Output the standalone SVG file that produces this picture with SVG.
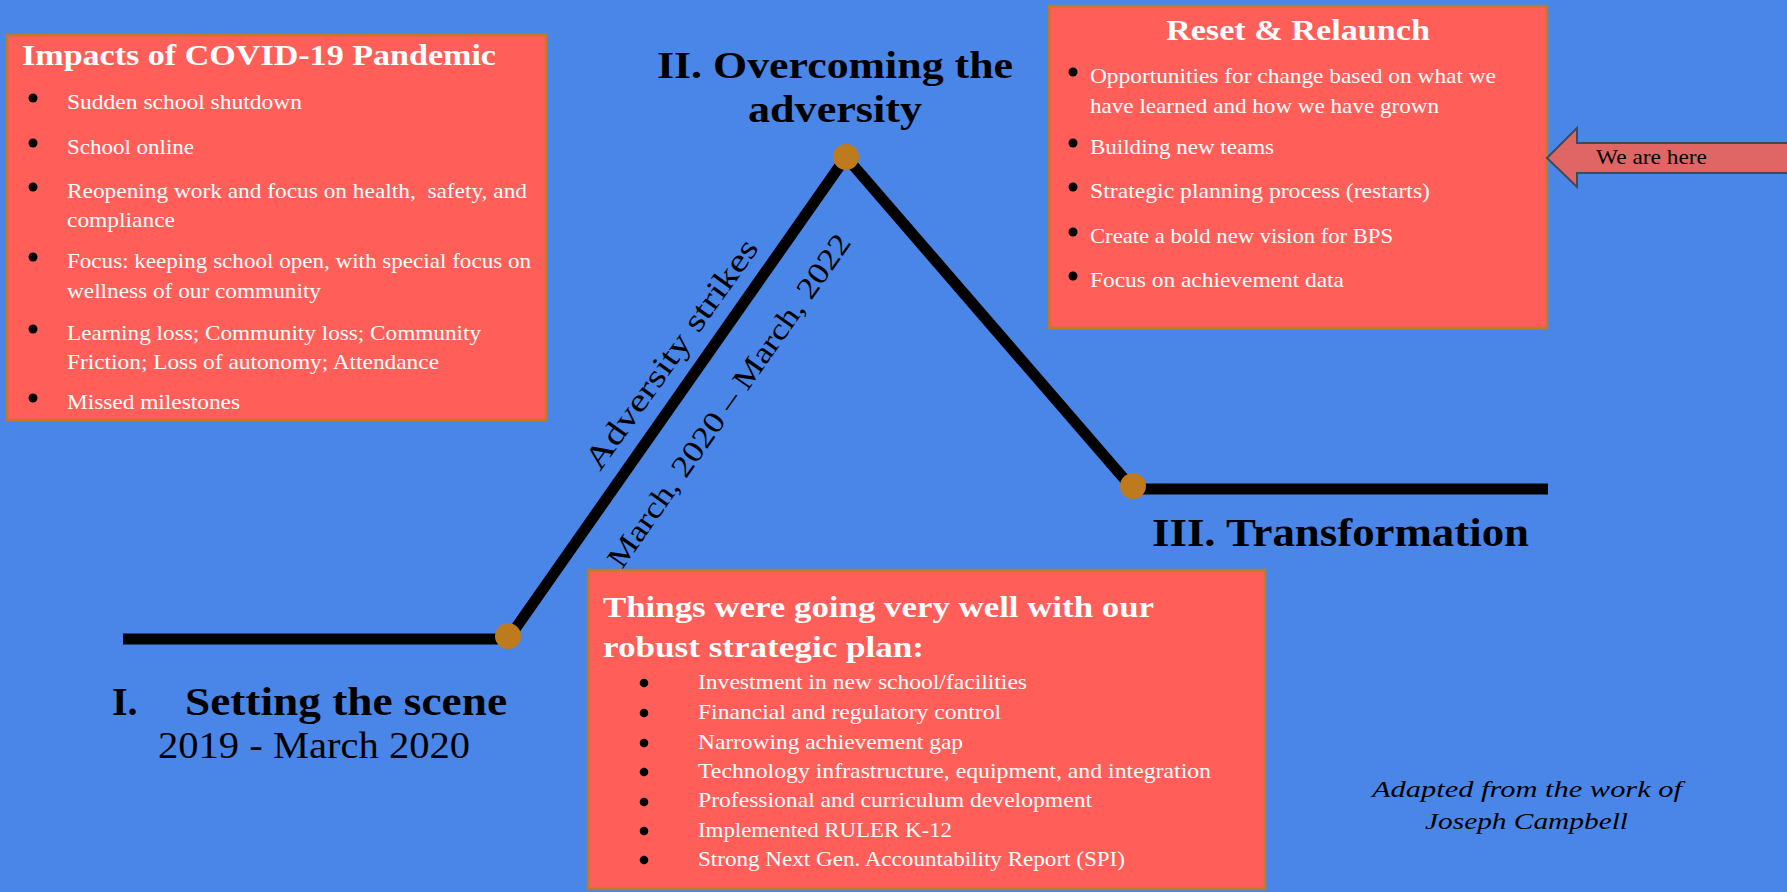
<svg xmlns="http://www.w3.org/2000/svg" width="1787" height="892" viewBox="0 0 1787 892">
<style>
text{font-family:"Liberation Serif","DejaVu Serif",serif;}
.box{fill:#FF5E59;stroke:#BF7A2A;stroke-width:2.5;}
.w{fill:#FFFFFF;}
.k{fill:#000000;}
.h{font-weight:bold;font-size:29.5px;}
.b{font-size:22px;}
.bb{font-size:21.5px;}
.bul{fill:#000000;}
.dot{fill:#BE7A1F;}
.stage{font-weight:bold;fill:#000000;}
</style>
<rect x="0" y="0" width="1787" height="892" fill="#4A86E8"/>

<g id="connectors">
<polyline points="123,639 508,639 846,157 1133,489 1548,489" fill="none" stroke="#000000" stroke-width="11" stroke-linejoin="round"/>
</g>

<g id="dots">
<circle class="dot" cx="508" cy="636" r="13"/>
<circle class="dot" cx="846" cy="157" r="13"/>
<circle class="dot" cx="1133" cy="486" r="13"/>
</g>

<g id="slope-labels">
<text class="k" font-size="32" transform="translate(600,472) rotate(-54.5)" textLength="275" lengthAdjust="spacingAndGlyphs">Adversity strikes</text>
<text class="k" font-size="30" transform="translate(622,570) rotate(-54.9)" textLength="400" lengthAdjust="spacingAndGlyphs">March, 2020 – March, 2022</text>
</g>

<g id="impacts">
<rect class="box" x="7" y="35" width="539" height="385"/>
<text class="w h" x="22" y="65" textLength="474" lengthAdjust="spacingAndGlyphs">Impacts of COVID-19 Pandemic</text>
<circle class="bul" cx="33" cy="98" r="4.5"/>
<circle class="bul" cx="33" cy="143" r="4.5"/>
<circle class="bul" cx="33" cy="187" r="4.5"/>
<circle class="bul" cx="33" cy="257" r="4.5"/>
<circle class="bul" cx="33" cy="329" r="4.5"/>
<circle class="bul" cx="33" cy="398" r="4.5"/>
<text class="w b" x="67" y="109" textLength="235" lengthAdjust="spacingAndGlyphs">Sudden school shutdown</text>
<text class="w b" x="67" y="154" textLength="127" lengthAdjust="spacingAndGlyphs">School online</text>
<text class="w b" x="67" y="198" textLength="460" lengthAdjust="spacingAndGlyphs" xml:space="preserve">Reopening work and focus on health,  safety, and</text>
<text class="w b" x="67" y="227" textLength="108" lengthAdjust="spacingAndGlyphs">compliance</text>
<text class="w b" x="67" y="268" textLength="464" lengthAdjust="spacingAndGlyphs">Focus: keeping school open, with special focus on</text>
<text class="w b" x="67" y="298" textLength="254" lengthAdjust="spacingAndGlyphs">wellness of our community</text>
<text class="w b" x="67" y="340" textLength="414" lengthAdjust="spacingAndGlyphs">Learning loss; Community loss; Community</text>
<text class="w b" x="67" y="369" textLength="372" lengthAdjust="spacingAndGlyphs">Friction; Loss of autonomy; Attendance</text>
<text class="w b" x="67" y="409" textLength="173" lengthAdjust="spacingAndGlyphs">Missed milestones</text>
</g>

<g id="reset">
<rect class="box" x="1049" y="6" width="498" height="322"/>
<text class="w h" x="1298" y="40" text-anchor="middle" textLength="264" lengthAdjust="spacingAndGlyphs">Reset &amp; Relaunch</text>
<circle class="bul" cx="1073" cy="72" r="4.5"/>
<circle class="bul" cx="1073" cy="143" r="4.5"/>
<circle class="bul" cx="1073" cy="187" r="4.5"/>
<circle class="bul" cx="1073" cy="232" r="4.5"/>
<circle class="bul" cx="1073" cy="276" r="4.5"/>
<text class="w b" x="1090" y="83" textLength="406" lengthAdjust="spacingAndGlyphs">Opportunities for change based on what we</text>
<text class="w b" x="1090" y="113" textLength="349" lengthAdjust="spacingAndGlyphs">have learned and how we have grown</text>
<text class="w b" x="1090" y="154" textLength="184" lengthAdjust="spacingAndGlyphs">Building new teams</text>
<text class="w b" x="1090" y="198" textLength="340" lengthAdjust="spacingAndGlyphs">Strategic planning process (restarts)</text>
<text class="w b" x="1090" y="243" textLength="303" lengthAdjust="spacingAndGlyphs">Create a bold new vision for BPS</text>
<text class="w b" x="1090" y="287" textLength="254" lengthAdjust="spacingAndGlyphs">Focus on achievement data</text>
</g>

<g id="we-are-here">
<polygon points="1547,158 1577,128 1577,143 1792,143 1792,173 1577,173 1577,187" fill="#E06666" stroke="#3F4A55" stroke-width="2"/>
<text class="k" font-size="21" x="1596" y="164" textLength="111" lengthAdjust="spacingAndGlyphs">We are here</text>
</g>

<g id="strategic-plan">
<rect class="box" x="588" y="570" width="677" height="319"/>
<text class="w h" x="603" y="617" textLength="551" lengthAdjust="spacingAndGlyphs">Things were going very well with our</text>
<text class="w h" x="603" y="657" textLength="321" lengthAdjust="spacingAndGlyphs">robust strategic plan:</text>
<circle class="bul" cx="644" cy="683" r="4.3"/>
<circle class="bul" cx="644" cy="713" r="4.3"/>
<circle class="bul" cx="644" cy="743" r="4.3"/>
<circle class="bul" cx="644" cy="772" r="4.3"/>
<circle class="bul" cx="644" cy="802" r="4.3"/>
<circle class="bul" cx="644" cy="831" r="4.3"/>
<circle class="bul" cx="644" cy="860" r="4.3"/>
<text class="w bb" x="698" y="689" textLength="329" lengthAdjust="spacingAndGlyphs">Investment in new school/facilities</text>
<text class="w bb" x="698" y="719" textLength="303" lengthAdjust="spacingAndGlyphs">Financial and regulatory control</text>
<text class="w bb" x="698" y="749" textLength="265" lengthAdjust="spacingAndGlyphs">Narrowing achievement gap</text>
<text class="w bb" x="698" y="778" textLength="513" lengthAdjust="spacingAndGlyphs">Technology infrastructure, equipment, and integration</text>
<text class="w bb" x="698" y="807" textLength="394" lengthAdjust="spacingAndGlyphs">Professional and curriculum development</text>
<text class="w bb" x="698" y="837" textLength="254" lengthAdjust="spacingAndGlyphs">Implemented RULER K-12</text>
<text class="w bb" x="698" y="866" textLength="427" lengthAdjust="spacingAndGlyphs">Strong Next Gen. Accountability Report (SPI)</text>
</g>

<g id="stage-1">
<text class="stage" font-size="40" x="112" y="715">I.</text>
<text class="stage" font-size="40" x="185" y="715" textLength="322" lengthAdjust="spacingAndGlyphs">Setting the scene</text>
<text class="k" font-size="37" x="158" y="758" textLength="312" lengthAdjust="spacingAndGlyphs">2019 - March 2020</text>
</g>

<g id="stage-2">
<text class="stage" font-size="37" x="657" y="78" textLength="356" lengthAdjust="spacingAndGlyphs">II. Overcoming the</text>
<text class="stage" font-size="37" x="748" y="122" textLength="174" lengthAdjust="spacingAndGlyphs">adversity</text>
</g>

<g id="stage-3">
<text class="stage" font-size="41" x="1152" y="546" textLength="377" lengthAdjust="spacingAndGlyphs">III. Transformation</text>
</g>

<g id="credit">
<text class="k" font-size="24" font-style="italic" x="1372" y="797" textLength="310" lengthAdjust="spacingAndGlyphs">Adapted from the work of</text>
<text class="k" font-size="24" font-style="italic" x="1425" y="829" textLength="203" lengthAdjust="spacingAndGlyphs">Joseph Campbell</text>
</g>
</svg>
